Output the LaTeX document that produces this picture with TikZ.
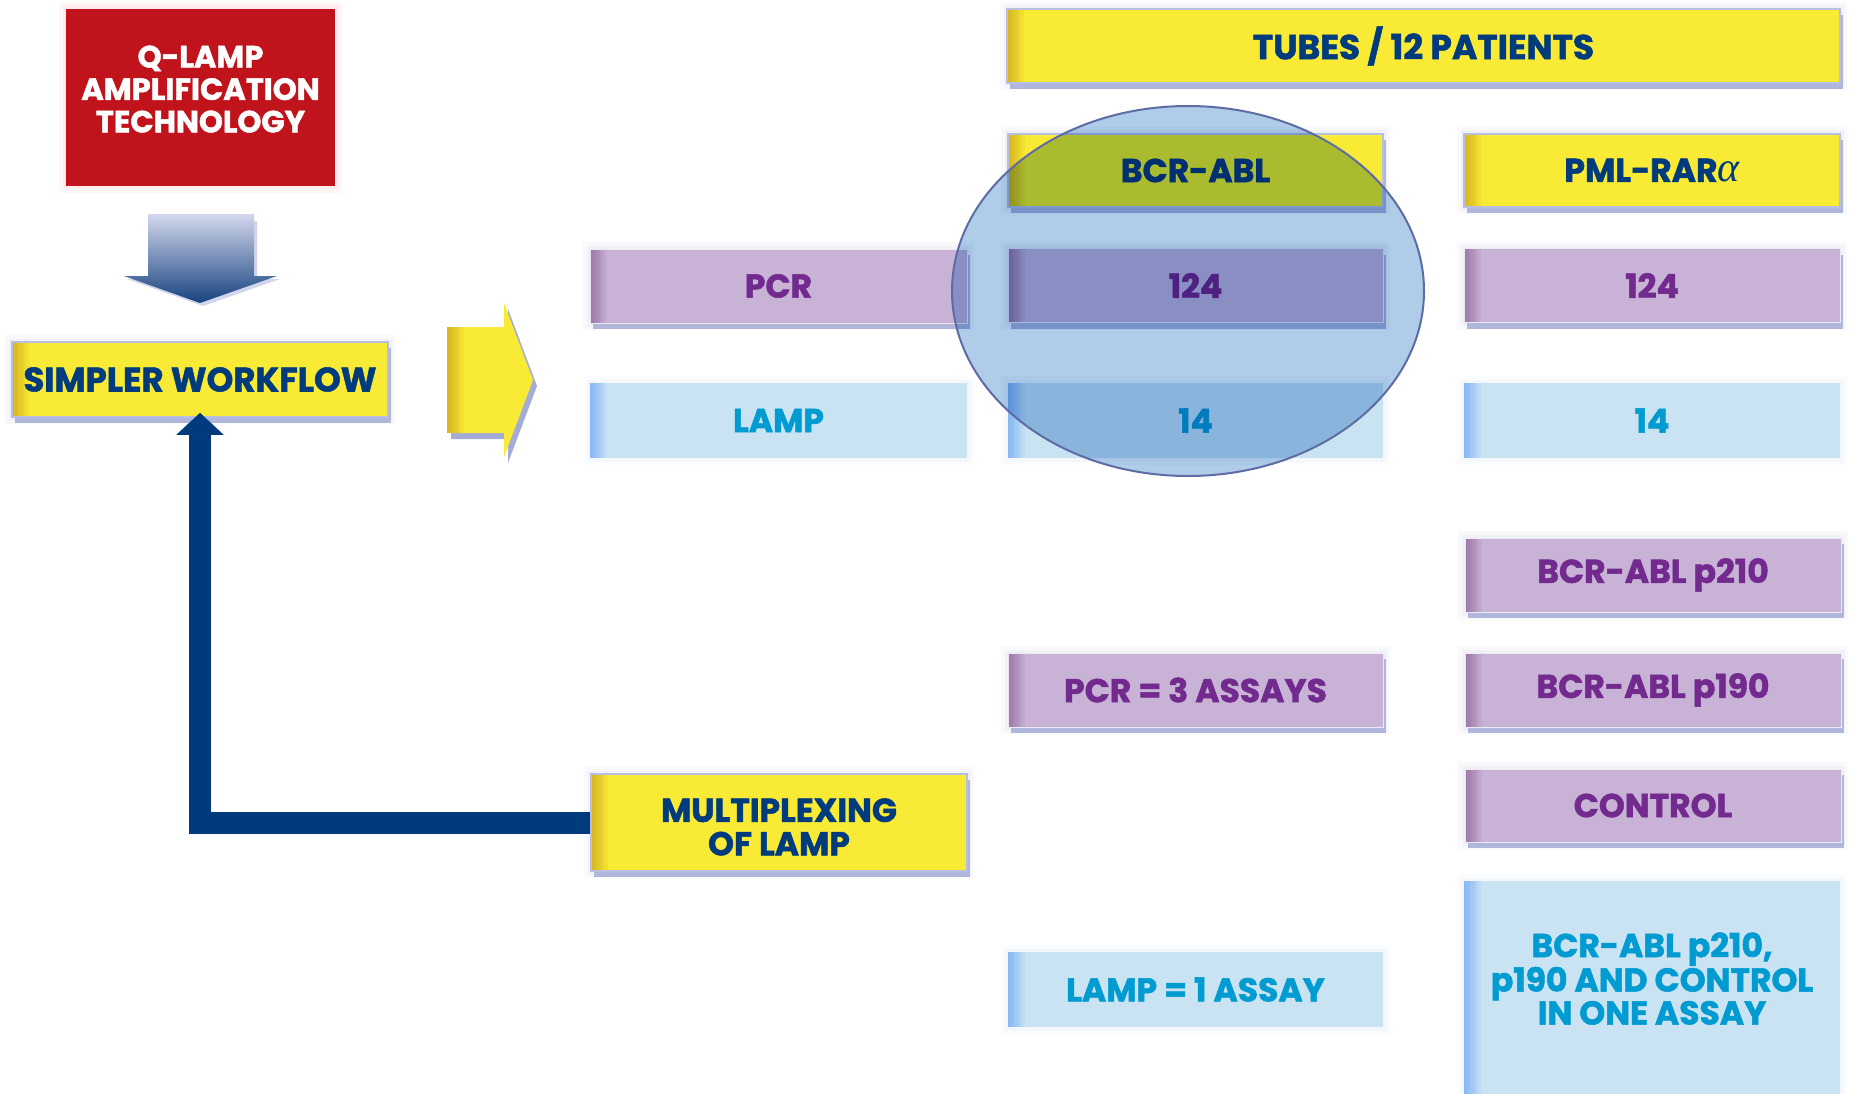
\documentclass[tikz,border=0pt]{standalone}
\usepackage{fontspec}
\setmainfont{Poppins}[BoldFeatures={FakeBold=1.6}]
\newfontfamily\greekf{Liberation Serif}
\usetikzlibrary{shadows,arrows.meta}
\definecolor{qred}{HTML}{C1131C}
\definecolor{qyel}{HTML}{F8EA35}
\definecolor{qnavy}{HTML}{003C7D}
\definecolor{qpur}{HTML}{C8B3D6}
\definecolor{qpurt}{HTML}{722A8F}
\definecolor{qlb}{HTML}{C9E3F3}
\definecolor{qcyan}{HTML}{009BD1}
\definecolor{qshadow}{HTML}{A4ACD6}
\definecolor{qglow}{HTML}{B8BEE2}
\definecolor{qell}{HTML}{AFCCE8}
\definecolor{qellb}{HTML}{5E6CA6}
\definecolor{qarrtop}{HTML}{D3D8EE}
\definecolor{qarrbot}{HTML}{17437F}
\newcommand\qlbl{\fontsize{33}{33}\selectfont\bfseries}
\newcommand\qredf{\fontsize{30.5}{32.5}\selectfont\bfseries}
\tikzset{
  edge/.style={path picture={\foreach \k in {1,...,7}
      {\fill[#1,opacity=0.05] (path picture bounding box.north west)
        rectangle ([xshift=\k*2.4pt]path picture bounding box.south west);}}},
  glow/.style={preaction={draw=#1,line width=14pt,opacity=0.08},
               preaction={draw=#1,line width=7pt,opacity=0.12}},
  shadowed/.style={drop shadow={shadow xshift=3pt,shadow yshift=-6pt,fill=qshadow,opacity=0.85}},
  box/.style={rectangle,inner sep=0pt,align=center,font=\qlbl},
  ybox/.style={box,glow=qglow,shadowed,fill=qyel,draw=qglow,line width=1.5pt,text=qnavy,edge={orange!60!black}},
  pbox/.style={box,glow=qglow,shadowed,fill=qpur,draw=white!70!qpur,line width=1pt,text=qpurt,edge={violet!60!black}},
  lbox/.style={box,glow=qlb,fill=qlb,text=qcyan,edge={blue!60!cyan}},
}
\begin{document}
\begin{tikzpicture}[x=1pt,y=-1pt]
\useasboundingbox[fill=white] (0,0) rectangle (1854,1094);

% left column
\node[box,glow=red!40,fill=qred,text=white,font=\qredf,minimum width=269pt,minimum height=177pt]
   (qlamp) at (200.5,97.5) {Q-LAMP\\AMPLIFICATION\\TECHNOLOGY\\[-15.5pt]~};
\node[ybox,minimum width=376pt,minimum height=75pt,font=\fontsize{34}{34}\selectfont\bfseries]
   (simpler) at (200,379.5) {SIMPLER WORKFLOW};

% down arrow (block)
\fill[qshadow!50] (151,221) -- (257,221) -- (257,279) -- (280,279) -- (203,306) -- (127,279) -- (151,279) -- cycle;
\shade[top color=qarrtop,bottom color=qarrbot] (148,214) -- (254,214) -- (254,276) -- (277,276)
   -- (200,303) -- (124,276) -- (148,276) -- cycle;

% right yellow arrow (block)
\fill[qshadow] (451,333) -- (508,333) -- (508,309) -- (537,386) -- (508,463) -- (508,439) -- (451,439) -- cycle;
\fill[qyel] (447,327) -- (504,327) -- (504,303) -- (533,380) -- (504,457) -- (504,433) -- (447,433) -- cycle;
\foreach \k in {1,...,7} {\fill[orange!60!black,opacity=0.05] (447,327) rectangle (447+\k*2.4,433);}

% middle column
\node[pbox,minimum width=377pt,minimum height=74pt] (pcr) at (778.5,286) {PCR};
\node[lbox,minimum width=377pt,minimum height=75pt] (lamp) at (778.5,420.5) {LAMP};
\node[ybox,minimum width=376pt,minimum height=97pt] (mult) at (779,822.5)
   {\begin{tabular}{@{}c@{}}\rule{0pt}{42pt}MULTIPLEXING\\OF LAMP\end{tabular}};

% top header
\node[ybox,minimum width=833pt,minimum height=74pt,font=\fontsize{34.5}{34.5}\selectfont\bfseries]
   (tubes) at (1423.5,46) {TUBES / 12 PATIENTS};

% BCR-ABL column
\node[ybox,minimum width=375pt,minimum height=73pt] (bcr) at (1195.5,170.5) {BCR-ABL};
\node[pbox,minimum width=375pt,minimum height=74pt] (bcrpcr) at (1195.5,285.5) {124};
\node[lbox,minimum width=375pt,minimum height=75pt] (bcrlamp) at (1195.5,420.5) {14};
\node[pbox,minimum width=375pt,minimum height=74pt] (pcr3) at (1195.5,690) {PCR = 3 ASSAYS};
\node[lbox,minimum width=375pt,minimum height=75pt] (lamp1) at (1195.5,989.5) {LAMP = 1 ASSAY};

% PML-RARa column
\node[ybox,minimum width=376pt,minimum height=73pt] (pml) at (1652,170.5)
   {PML-RAR{\greekf\itshape\mdseries\fontsize{42}{42}\selectfont α}};
\node[pbox,minimum width=376pt,minimum height=74pt] (pmlpcr) at (1652,285.5) {124};
\node[lbox,minimum width=376pt,minimum height=75pt] (pmllamp) at (1652,420.5) {14};
\node[pbox,minimum width=376pt,minimum height=74pt] (p210) at (1653,575) {BCR-ABL p210};
\node[pbox,minimum width=376pt,minimum height=74pt] (p190) at (1653,690) {BCR-ABL p190};
\node[pbox,minimum width=376pt,minimum height=73pt] (ctrl) at (1653,805.5) {CONTROL};
\node[lbox,minimum width=376pt,minimum height=213pt] (onebox) at (1652,987.5)
   {BCR-ABL p210,\\p190 AND CONTROL\\IN ONE ASSAY\\[-15pt]~};

% highlight ellipse
\begin{scope}[blend mode=multiply]
  \fill[qell] (1188,291) ellipse [x radius=236, y radius=185];
\end{scope}
\draw[qellb,line width=2pt] (1188,291) ellipse [x radius=236, y radius=185];

% feedback connector
\draw[qnavy,line width=22pt,line join=miter,-{Triangle[length=22pt,width=46pt]}]
   (mult.west) -| ([yshift=5pt]simpler.south);
\end{tikzpicture}
\end{document}
